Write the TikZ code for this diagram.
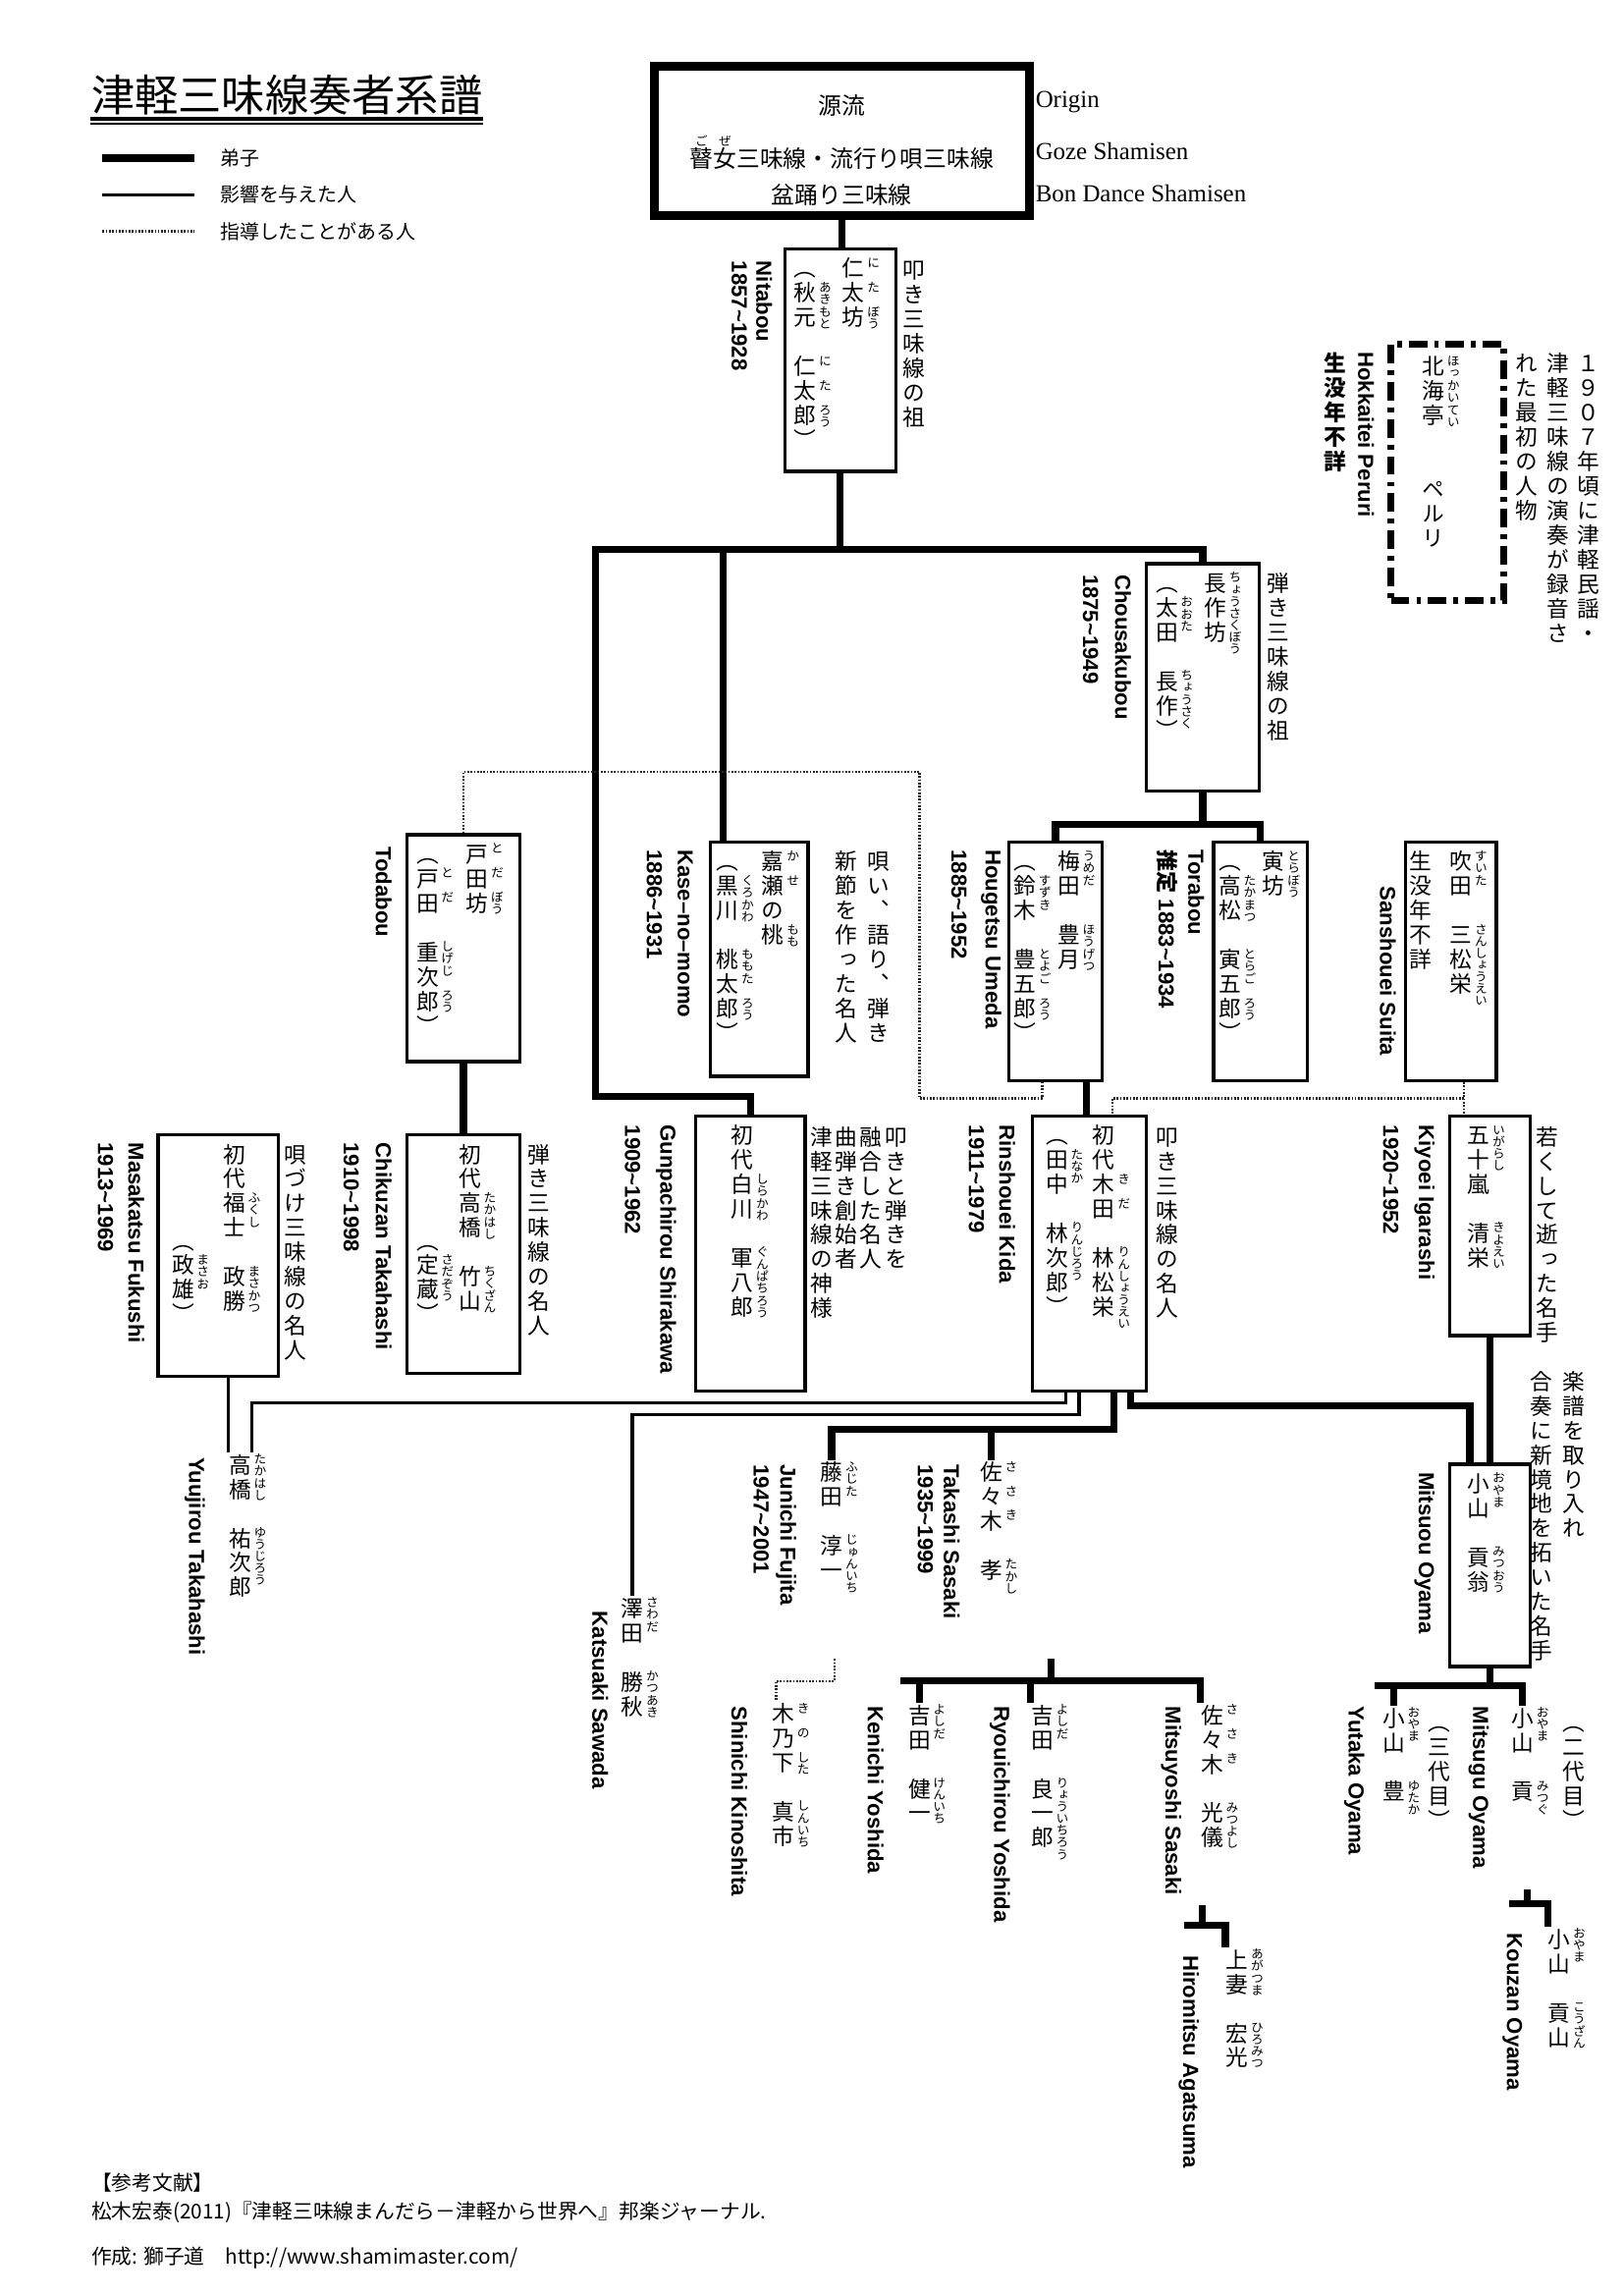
\documentclass[tikz,border=0pt]{standalone}
\usepackage{fontspec}
\setmainfont{Noto Sans CJK JP}
\newfontfamily\jp{Noto Sans CJK JP}
\newfontfamily\vjp[RawFeature=+vert]{Noto Sans CJK JP}
\newfontfamily\en{Liberation Sans}
\newfontfamily\ser{Liberation Serif}
\usetikzlibrary{fit, calc}

\newcommand\namefont{\vjp\fontsize{8.2}{9}\selectfont}
\newcommand\rubyfont{\vjp\fontsize{4.6}{5}\selectfont}
\newcommand\enfont{\en\bfseries\fontsize{8}{9}\selectfont}
\newcommand\legfont{\jp\fontsize{7.2}{8}\selectfont}
\newcommand\orgfont{\jp\fontsize{8.6}{10}\selectfont}
\newcommand\footfont{\jp\fontsize{7.5}{8}\selectfont}

% one character per cell, read top to bottom
\newcommand\cell[1]{\hbox to 1em{\vrule height .9em depth .2em width 0pt\hss#1\hss}}
\newcommand\rcell[1]{\hbox to 1em{\vrule height .82em depth .13em width 0pt\hss#1\hss}}
\def\tate#1{\tateaux#1\relax}
\def\tateaux#1{\ifx\relax#1\else\cell{#1}\expandafter\tateaux\fi}
\def\ruby#1{\rubyaux#1\relax}
\def\rubyaux#1{\ifx\relax#1\else\rcell{#1}\expandafter\rubyaux\fi}
\newcommand\col[1]{\vtop{\offinterlineskip#1}}
\newcommand\rb[2]{\hbox{\col{\tate{#1}}\rlap{\kern.12em\smash{\raise.42em\hbox{\rubyfont\col{\ruby{#2}}}}}}}
\newcommand\hrb[2]{\hbox to 1em{\hss#1\hss}\kern-1em\hbox to 1em{\hss\raise.95em\hbox{\rubyfont #2}\hss}}

\tikzset{
  disc/.style={line width=2.6pt},
  infl/.style={line width=1.2pt},
  guid/.style={line width=0.9pt, dash pattern=on 0.6pt off 0.6pt, black!85},
  pbox/.style={draw, line width=1.2pt, inner sep=0pt, fit={#1}},
  namecol/.style={anchor=north, inner sep=0pt, font=\namefont},
  notecol/.style={anchor=north, inner sep=0pt, font=\namefont},
  enlabel/.style={anchor=west, rotate=-90, inner sep=0pt, font=\enfont}
}

\begin{document}
\begin{tikzpicture}[x=0.18936mm, y=-0.18936mm]
  \useasboundingbox (0,0) rectangle (1109,1568);

  \node[anchor=base west, inner sep=0pt, font=\jp\fontsize{16}{18}\selectfont] (title) at (62,76) {津軽三味線奏者系譜};
  \draw[line width=1.3pt] ($(title.base west)+(0,5)$) -- ($(title.base east)+(0,5)$);
  \draw[line width=0.5pt] ($(title.base west)+(0,8.5)$) -- ($(title.base east)+(0,8.5)$);

  \node[anchor=west, inner sep=0pt, font=\legfont] (leg-disc) at (150,108) {弟子};
  \node[anchor=west, inner sep=0pt, font=\legfont] (leg-infl) at (150,133) {影響を与えた人};
  \node[anchor=west, inner sep=0pt, font=\legfont] (leg-guid) at (150,158) {指導したことがある人};
  \draw[disc] (70,108) -- (133,108);
  \draw[infl] (70,133) -- (133,133);
  \draw[guid] (70,158) -- (133,158);

  \node[draw, line width=3.2pt, inner sep=0pt, fit={(447,45) (703,147)}] (origin) {};
  \node[font=\orgfont] (origin-1) at (575,72) {源流};
  \node[font=\orgfont] (origin-2) at (575,104) {\hrb{瞽}{ご}\hrb{女}{ぜ}三味線・流行り唄三味線};
  \node[font=\orgfont] (origin-3) at (575,133) {盆踊り三味線};
  \node[anchor=west, inner sep=0pt, font=\ser\fontsize{9}{10}\selectfont] (origin-en1) at (707,70) {Origin};
  \node[anchor=west, inner sep=0pt, font=\ser\fontsize{9}{10}\selectfont] (origin-en2) at (707,103) {Goze Shamisen};
  \node[anchor=west, inner sep=0pt, font=\ser\fontsize{9}{10}\selectfont] (origin-en3) at (707,132) {Bon Dance Shamisen};

  \node[pbox={(536,170) (612,322)}] (nitabou) {};
  \node[namecol] (nitabou-a) at (583,175) {\col{\rb{仁}{に}\rb{太}{た}\rb{坊}{ぼう}}};
  \node[namecol] (nitabou-b) at (550,175) {\col{\tate{︵}\rb{秋}{あき}\rb{元}{もと}\tate{　}\rb{仁}{に}\rb{太}{た}\rb{郎}{ろう}\tate{︶}}};
  \node[notecol] (nitabou-note) at (624,176) {\col{\tate{叩き三味線の祖}}};
  \node[enlabel] (nitabou-en) at (522,178) {Nitabou};
  \node[enlabel] (nitabou-yr) at (505,178) {1857\textasciitilde1928};

  \node[pbox={(783,385) (860,540)}] (chou) {};
  \node[namecol] (chou-a) at (830,390) {\col{\rb{長作坊}{ちょうさくぼう}}};
  \node[namecol] (chou-b) at (797,390) {\col{\tate{︵}\rb{太田}{おおた}\tate{　}\rb{長作}{ちょうさく}\tate{︶}}};
  \node[notecol] (chou-note) at (873,390) {\col{\tate{弾き三味線の祖}}};
  \node[enlabel] (chou-en) at (767,392) {Chousakubou};
  \node[enlabel] (chou-yr) at (745,392) {1875\textasciitilde1949};

  \node[draw, line width=2.4pt, dash pattern=on 2.4mm off .9mm on .6mm off .9mm, inner sep=0pt, fit={(950,235) (1027,410)}] (hokkaitei) {};
  \node[namecol] (hokkaitei-a) at (979,242) {\col{\rb{北}{ほっ}\rb{海}{かい}\rb{亭}{てい}\tate{　　ペルリ}}};
  \node[enlabel] (hokkaitei-en) at (933,240) {Hokkaitei Peruri};
  \node[notecol, font=\namefont\bfseries] (hokkaitei-yr) at (912,240) {\col{\tate{生没年不詳}}};
  \node[notecol] (hokkaitei-note1) at (1085,240) {\col{\tate{１９０７年頃に津軽民謡・}}};
  \node[notecol] (hokkaitei-note2) at (1064,240) {\col{\tate{津軽三味線の演奏が録音さ}}};
  \node[notecol] (hokkaitei-note3) at (1043,240) {\col{\tate{れた最初の人物}}};

  \node[pbox={(278,570) (355,725)}] (todabou) {};
  \node[namecol] (todabou-a) at (326,575) {\col{\rb{戸}{と}\rb{田}{だ}\rb{坊}{ぼう}}};
  \node[namecol] (todabou-b) at (292,575) {\col{\tate{︵}\rb{戸}{と}\rb{田}{だ}\tate{　}\rb{重}{しげ}\rb{次}{じ}\rb{郎}{ろう}\tate{︶}}};
  \node[enlabel] (todabou-en) at (262,578) {Todabou};

  \node[pbox={(485,575) (552,735)}] (kase) {};
  \node[namecol] (kase-a) at (528,580) {\col{\rb{嘉}{か}\rb{瀬}{せ}\tate{の}\rb{桃}{もも}}};
  \node[namecol] (kase-b) at (497,580) {\col{\tate{︵}\rb{黒}{くろ}\rb{川}{かわ}\tate{　}\rb{桃}{もも}\rb{太}{た}\rb{郎}{ろう}\tate{︶}}};
  \node[notecol] (kase-note1) at (600,580) {\col{\tate{唄い︑語り︑弾き}}};
  \node[notecol] (kase-note2) at (578,580) {\col{\tate{新節を作った名人}}};
  \node[enlabel] (kase-en) at (468,580) {Kase–no–momo};
  \node[enlabel] (kase-yr) at (447,580) {1886\textasciitilde1931};

  \node[pbox={(689,575) (753,738)}] (hougetsu) {};
  \node[namecol] (hougetsu-a) at (730,580) {\col{\rb{梅}{うめ}\rb{田}{だ}\tate{　}\rb{豊}{ほう}\rb{月}{げつ}}};
  \node[namecol] (hougetsu-b) at (700,580) {\col{\tate{︵}\rb{鈴}{すず}\rb{木}{き}\tate{　}\rb{豊}{とよ}\rb{五}{ご}\rb{郎}{ろう}\tate{︶}}};
  \node[enlabel] (hougetsu-en) at (677,580) {Hougetsu Umeda};
  \node[enlabel] (hougetsu-yr) at (655,580) {1885\textasciitilde1952};

  \node[pbox={(829,575) (893,738)}] (torabou) {};
  \node[namecol] (torabou-a) at (870,580) {\col{\rb{寅}{とら}\rb{坊}{ぼう}}};
  \node[namecol] (torabou-b) at (840,580) {\col{\tate{︵}\rb{高}{たか}\rb{松}{まつ}\tate{　}\rb{寅}{とら}\rb{五}{ご}\rb{郎}{ろう}\tate{︶}}};
  \node[enlabel] (torabou-en) at (817,580) {Torabou};
  \node[enlabel] (torabou-yr) at (797,580) {{\jp\bfseries 推定} 1883\textasciitilde1934};

  \node[pbox={(960,575) (1022,738)}] (sanshouei) {};
  \node[namecol] (sanshouei-a) at (998,580) {\col{\rb{吹}{すい}\rb{田}{た}\tate{　}\rb{三松栄}{さんしょうえい}}};
  \node[namecol] (sanshouei-b) at (970,580) {\col{\tate{生没年不詳}}};
  \node[enlabel] (sanshouei-en) at (948,605) {Sanshouei Suita};

  \node[pbox={(278,775) (355,938)}] (chikuzan) {};
  \node[namecol] (chikuzan-a) at (321,780) {\col{\tate{初代}\rb{高}{たか}\rb{橋}{はし}\tate{　}\rb{竹}{ちく}\rb{山}{ざん}}};
  \node[namecol] (chikuzan-b) at (292,839) {\col{\tate{︵}\rb{定}{さだ}\rb{蔵}{ぞう}\tate{︶}}};
  \node[notecol] (chikuzan-note) at (368,780) {\col{\tate{弾き三味線の名人}}};
  \node[enlabel] (chikuzan-en) at (262,780) {Chikuzan Takahashi};
  \node[enlabel] (chikuzan-yr) at (240,780) {1910\textasciitilde1998};

  \node[pbox={(108,775) (190,940)}] (fukushi) {};
  \node[namecol] (fukushi-a) at (160,780) {\col{\tate{初代}\rb{福}{ふく}\rb{士}{し}\tate{　}\rb{政}{まさ}\rb{勝}{かつ}}};
  \node[namecol] (fukushi-b) at (125,839) {\col{\tate{︵}\rb{政}{まさ}\rb{雄}{お}\tate{︶}}};
  \node[notecol] (fukushi-note) at (202,780) {\col{\tate{唄づけ三味線の名人}}};
  \node[enlabel] (fukushi-en) at (93,780) {Masakatsu Fukushi};
  \node[enlabel] (fukushi-yr) at (72,780) {1913\textasciitilde1969};

  \node[pbox={(475,762) (550,950)}] (shirakawa) {};
  \node[namecol] (shirakawa-a) at (507,767) {\col{\tate{初代}\rb{白}{しら}\rb{川}{かわ}\tate{　}\rb{軍}{ぐん}\rb{八}{ぱち}\rb{郎}{ろう}}};
  \node[notecol] (shirakawa-note1) at (612,768) {\col{\tate{叩きと弾きを}}};
  \node[notecol] (shirakawa-note2) at (595,768) {\col{\tate{融合した名人}}};
  \node[notecol] (shirakawa-note3) at (578,768) {\col{\tate{曲弾き創始者}}};
  \node[notecol] (shirakawa-note4) at (561,768) {\col{\tate{津軽三味線の神様}}};
  \node[enlabel] (shirakawa-en) at (455,768) {Gunpachirou Shirakawa};
  \node[enlabel] (shirakawa-yr) at (432,768) {1909\textasciitilde1962};

  \node[pbox={(705,762) (783,950)}] (kida) {};
  \node[namecol] (kida-a) at (754,767) {\col{\tate{初代}\rb{木}{き}\rb{田}{だ}\tate{　}\rb{林松栄}{りんしょうえい}}};
  \node[namecol] (kida-b) at (722,767) {\col{\tate{︵}\rb{田中}{たなか}\tate{　}\rb{林次郎}{りんじろう}\tate{︶}}};
  \node[notecol] (kida-note) at (797,768) {\col{\tate{叩き三味線の名人}}};
  \node[enlabel] (kida-en) at (688,768) {Rinshouei Kida};
  \node[enlabel] (kida-yr) at (667,768) {1911\textasciitilde1979};

  \node[pbox={(990,762) (1045,912)}] (igarashi) {};
  \node[namecol] (igarashi-a) at (1010,767) {\col{\rb{五十嵐}{いがらし}\tate{　}\rb{清栄}{きよえい}}};
  \node[notecol] (igarashi-note) at (1057,768) {\col{\tate{若くして逝った名手}}};
  \node[enlabel] (igarashi-en) at (973,768) {Kiyoei Igarashi};
  \node[enlabel] (igarashi-yr) at (950,768) {1920\textasciitilde1952};

  \node[pbox={(990,1000) (1045,1138)}] (oyama) {};
  \node[namecol] (oyama-a) at (1010,1005) {\col{\rb{小山}{おやま}\tate{　}\rb{貢翁}{みつおう}}};
  \node[notecol] (oyama-note1) at (1075,935) {\col{\tate{楽譜を取り入れ}}};
  \node[notecol] (oyama-note2) at (1053,935) {\col{\tate{合奏に新境地を拓いた名手}}};
  \node[enlabel] (oyama-en) at (973,1005) {Mitsuou Oyama};

  \node[namecol] (yuujirou) at (164,992) {\col{\rb{高}{たか}\rb{橋}{はし}\tate{　}\rb{祐次郎}{ゆうじろう}}};
  \node[enlabel] (yuujirou-en) at (133,995) {Yuujirou Takahashi};
  \node[namecol] (sawada) at (432,1090) {\col{\rb{澤}{さわ}\rb{田}{だ}\tate{　}\rb{勝}{かつ}\rb{秋}{あき}}};
  \node[enlabel] (sawada-en) at (410,1100) {Katsuaki Sawada};
  \node[namecol] (fujita) at (568,997) {\col{\rb{藤}{ふじ}\rb{田}{た}\tate{　}\rb{淳一}{じゅんいち}}};
  \node[enlabel] (fujita-en) at (537,1000) {Junichi Fujita};
  \node[enlabel] (fujita-yr) at (520,1000) {1947\textasciitilde2001};
  \node[namecol] (kinoshita) at (535,1162) {\col{\rb{木}{き}\rb{乃}{の}\rb{下}{した}\tate{　}\rb{真市}{しんいち}}};
  \node[enlabel] (kinoshita-en) at (505,1165) {Shinichi Kinoshita};
  \node[namecol] (takashi) at (677,997) {\col{\rb{佐}{さ}\rb{々}{さ}\rb{木}{き}\tate{　}\rb{孝}{たかし}}};
  \node[enlabel] (takashi-en) at (650,1000) {Takashi Sasaki};
  \node[enlabel] (takashi-yr) at (632,1000) {1935\textasciitilde1999};
  \node[namecol] (kenichi) at (628,1163) {\col{\rb{吉}{よし}\rb{田}{だ}\tate{　}\rb{健一}{けんいち}}};
  \node[enlabel] (kenichi-en) at (598,1165) {Kenichi Yoshida};
  \node[namecol] (ryouichirou) at (712,1163) {\col{\rb{吉}{よし}\rb{田}{だ}\tate{　}\rb{良一郎}{りょういちろう}}};
  \node[enlabel] (ryouichirou-en) at (683,1165) {Ryouichirou Yoshida};
  \node[namecol] (mitsuyoshi) at (828,1163) {\col{\rb{佐}{さ}\rb{々}{さ}\rb{木}{き}\tate{　}\rb{光儀}{みつよし}}};
  \node[enlabel] (mitsuyoshi-en) at (800,1165) {Mitsuyoshi Sasaki};
  \node[namecol] (agatsuma) at (845,1330) {\col{\rb{上妻}{あがつま}\tate{　}\rb{宏光}{ひろみつ}}};
  \node[enlabel] (agatsuma-en) at (812,1335) {Hiromitsu Agatsuma};
  \node[namecol] (yutaka) at (952,1165) {\col{\rb{小山}{おやま}\tate{　}\rb{豊}{ゆたか}}};
  \node[namecol] (yutaka-b) at (983,1168) {\col{\tate{︵三代目︶}}};
  \node[enlabel] (yutaka-en) at (925,1165) {Yutaka Oyama};
  \node[namecol] (mitsugu) at (1040,1165) {\col{\rb{小山}{おやま}\tate{　}\rb{貢}{みつぐ}}};
  \node[namecol] (mitsugu-b) at (1075,1168) {\col{\tate{︵二代目︶}}};
  \node[enlabel] (mitsugu-en) at (1010,1165) {Mitsugu Oyama};
  \node[namecol] (kouzan) at (1065,1316) {\col{\rb{小山}{おやま}\tate{　}\rb{貢山}{こうざん}}};
  \node[enlabel] (kouzan-en) at (1033,1320) {Kouzan Oyama};

  \coordinate (bar-l) at (407,375);
  \coordinate (bend-s) at (407,749);
  \coordinate (kase-in) at ($(kase.north west)+(10,0)$);
  \coordinate (hk) at (742,0);
  \coordinate (g1) at (628,527);
  \coordinate (g2) at (712,750);
  \coordinate (g3) at (1000,750);
  \coordinate (g4) at (760,750);
  \coordinate (k1) at (728,958);
  \coordinate (k2) at (737,966);
  \coordinate (k3) at (761,976);
  \coordinate (k4) at (772,960);
  \coordinate (k4b) at (1004,960);
  \coordinate (g5) at (570,1133);
  \coordinate (g6) at (530,1148);
  \coordinate (s1) at (718,1133);
  \coordinate (s-l) at (615,1148);
  \coordinate (a1) at (821,1301);
  \coordinate (a2) at (809,1315);
  \coordinate (o-l) at (939,1151);
  \coordinate (m1) at (1043,1290);
  \coordinate (m2) at (1031,1300);

  \draw[disc] (origin.south) -- (origin.south |- nitabou.north);
  \draw[disc] (nitabou.south) -- (nitabou.south |- bar-l);
  \draw[disc] (chou.north) |- (bar-l) -- (bend-s) -| (shirakawa.north);
  \draw[disc] (kase-in) -- (kase-in |- bar-l);
  \draw[disc] (chou.south) -- ($(chou.south)+(0,22)$);
  \draw[disc] (hougetsu.north) -- ($(hougetsu.north |- chou.south)+(0,22)$) -| (torabou.north);
  \draw[disc] (hougetsu.south -| hk) -- (kida.north -| hk);
  \draw[disc] (todabou.south) -- (todabou.south |- chikuzan.north);
  \draw[disc] (igarashi.south) -- (igarashi.south |- oyama.north);
  \draw[guid] (todabou.north) |- (g1) |- (g2) -- (g2 |- hougetsu.south);
  \draw[guid] (sanshouei.south -| g3) -- (igarashi.north -| g3);
  \draw[guid] (g3) -- (g4) -- (g4 |- kida.north);

  \draw[infl] (kida.south -| k1) -- (k1) -| (yuujirou.north east);
  \draw[infl] (fukushi.south -| yuujirou.north west) -- (yuujirou.north west);
  \draw[infl] (kida.south -| k2) -- (k2) -| (sawada.north);
  \draw[disc] (kida.south -| k3) -- (k3) -| (fujita.north);
  \draw[disc] (takashi.north) -- (takashi.north |- k3);
  \draw[disc] (kida.south -| k4) -- (k4) -- (k4b) -- (k4b |- oyama.north);
  \draw[guid] (g5) |- (g6) -- (g6 |- kinoshita.north);

  \draw[disc] (s1) -- (s1 |- s-l);
  \draw[disc] (s-l) -| (mitsuyoshi.north west);
  \draw[disc] (kenichi.north) -- (kenichi.north |- s-l);
  \draw[disc] (ryouichirou.north west) -- (ryouichirou.north west |- s-l);
  \draw[disc] (a1) -- (a1 |- a2);
  \draw[disc] (a2) -| (agatsuma.north west);
  \draw[disc] (oyama.south) -- (oyama.south |- o-l);
  \draw[disc] (o-l) -| (mitsugu.north);
  \draw[disc] (yutaka.north) -- (yutaka.north |- o-l);
  \draw[disc] (m1) -- (m1 |- m2);
  \draw[disc] (m2) -| (kouzan.north west);

  \node[anchor=base west, inner sep=0pt, font=\footfont] (ref-head) at (62,1496) {【参考文献】};
  \node[anchor=base west, inner sep=0pt, font=\footfont] (ref-book) at (62,1515) {松木宏泰(2011)『津軽三味線まんだら－津軽から世界へ』邦楽ジャーナル.};
  \node[anchor=base west, inner sep=0pt, font=\footfont] (credit) at (62,1546) {作成: 獅子道\hspace{1em}http://www.shamimaster.com/};
\end{tikzpicture}
\end{document}
